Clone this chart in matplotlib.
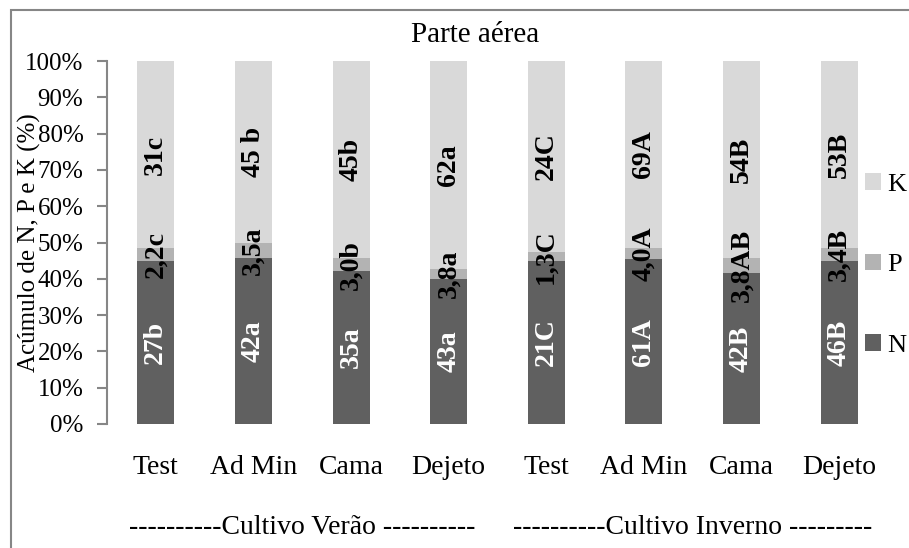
import matplotlib
matplotlib.use("Agg")
import matplotlib.pyplot as plt
from matplotlib.patches import Rectangle
from matplotlib.transforms import blended_transform_factory

plt.rcParams['font.family'] = ['Liberation Serif', 'DejaVu Serif']

tratamentos = ["Test", "Ad Min", "Cama", "Dejeto", "Test", "Ad Min", "Cama", "Dejeto"]
grupos = ["----------Cultivo Verão ----------", "----------Cultivo Inverno ---------"]

N_pct = [44.9, 45.7, 42.1, 39.9, 44.9, 45.4, 41.6, 44.9]
P_pct = [3.6, 4.2, 3.6, 2.8, 2.5, 3.1, 4.1, 3.6]
K_pct = [51.5, 50.1, 54.3, 57.3, 52.6, 51.5, 54.3, 51.5]

N_rot = ["27b", "42a", "35a", "43a", "21C", "61A", "42B", "46B"]
P_rot = ["2,2c", "3,5a", "3,0b", "3,8a", "1,3C", "4,0A", "3,8AB", "3,4B"]
K_rot = ["31c", "45 b", "45b", "62a", "24C", "69A", "54B", "53B"]

cor_N = "#606060"
cor_P = "#b3b3b3"
cor_K = "#d9d9d9"
cinza = "#868686"

fig = plt.figure(figsize=(9.09, 5.48), dpi=100)
W, H = 909, 548
ax = fig.add_axes([107 / W, 1 - 424 / H, 781 / W, 363 / H])

x = list(range(len(tratamentos)))
largura = 0.38
bN = ax.bar(x, N_pct, largura, color=cor_N, label="N")
baseP = [n for n in N_pct]
bP = ax.bar(x, P_pct, largura, bottom=baseP, color=cor_P, label="P")
baseK = [n + p for n, p in zip(N_pct, P_pct)]
bK = ax.bar(x, K_pct, largura, bottom=baseK, color=cor_K, label="K")

ax.bar_label(bN, labels=N_rot, label_type="center", rotation=90, color="white",
             fontsize=20, fontweight="bold")
ax.bar_label(bP, labels=P_rot, label_type="center", rotation=90, color="black",
             fontsize=20, fontweight="bold")
ax.bar_label(bK, labels=K_rot, label_type="center", rotation=90, color="black",
             fontsize=20, fontweight="bold")

ax.set_xlim(-0.5, len(tratamentos) - 0.5)
ax.set_ylim(0, 100)
ax.set_yticks(range(0, 101, 10))
ax.set_yticklabels([f"{v}%" for v in range(0, 101, 10)])
ax.set_xticks(x)
ax.set_xticklabels(tratamentos)
ax.tick_params(axis="x", length=0, pad=22, labelsize=20)
ax.tick_params(axis="y", length=7, width=1.5, color=cinza, pad=10, labelsize=18)
for s in ["top", "right", "bottom"]:
    ax.spines[s].set_visible(False)
ax.spines["left"].set_color(cinza)
ax.spines["left"].set_linewidth(1.5)

ax.set_ylabel("Acúmulo de N, P e K (%)", fontsize=18)
ax.yaxis.set_label_coords(-0.084, 0.5)

trans = blended_transform_factory(ax.transData, fig.transFigure)
ax.text(1.5, 1 - 528 / H, grupos[0], transform=trans, ha="center", va="center", fontsize=20)
ax.text(5.5, 1 - 528 / H, grupos[1], transform=trans, ha="center", va="center", fontsize=20)

fig.text(475 / W, 1 - 35 / H, "Parte aérea", ha="center", va="center", fontsize=21)

leg = ax.legend([bK, bP, bN], ["K", "P", "N"], loc="center left",
                bbox_to_anchor=(865 / W, 1 - 265 / H), bbox_transform=fig.transFigure,
                frameon=False, fontsize=19, handlelength=0.6, handleheight=0.6,
                handletextpad=0.25, labelspacing=2.2, borderaxespad=0, borderpad=0)

fig.patches.append(Rectangle((11 / W, -0.1), 1.2, 1 - 10 / H + 0.1, transform=fig.transFigure,
                             fill=False, edgecolor=cinza, linewidth=1.5))

fig.savefig("out.png", dpi=100)
